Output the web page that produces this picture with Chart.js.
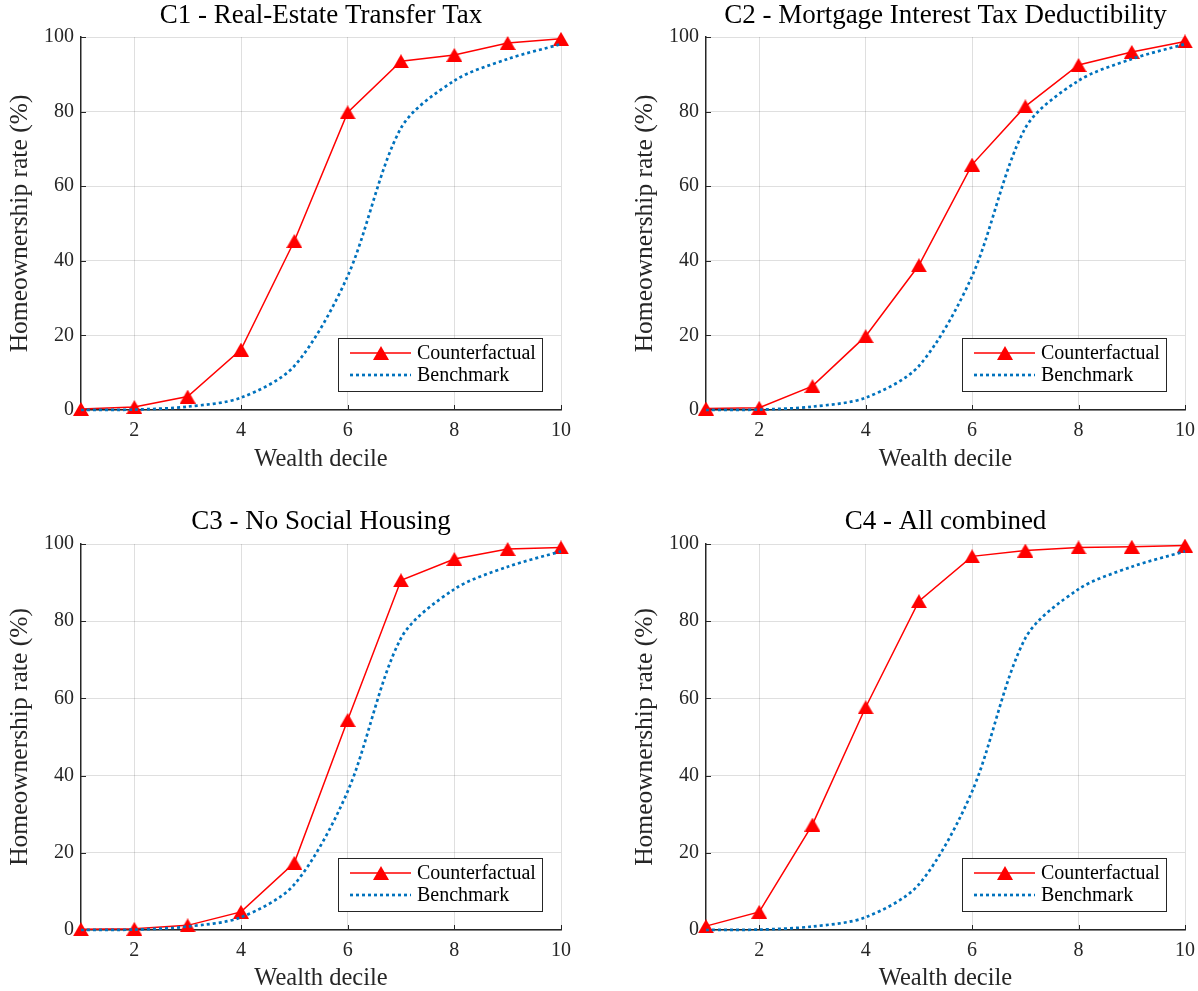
<!DOCTYPE html>
<html>
<head>
<meta charset="utf-8">
<script src="https://cdn.jsdelivr.net/npm/chart.js@4.4.1/dist/chart.umd.min.js"></script>
<style>
  html, body { margin: 0; padding: 0; background: #fff; }
  #wrap { position: relative; width: 1198px; height: 991px; overflow: hidden; background: #fff; }
  canvas { position: absolute; }
</style>
</head>
<body>
<div id="wrap">
  <canvas id="p1" width="600" height="480" style="left:0px;top:0px"></canvas>
  <canvas id="p2" width="600" height="480" style="left:625px;top:0px"></canvas>
  <canvas id="p3" width="600" height="511" style="left:0px;top:480px"></canvas>
  <canvas id="p4" width="600" height="511" style="left:625px;top:480px"></canvas>
</div>
<script>
// wealth deciles and homeownership rates (%)
const deciles = [1, 2, 3, 4, 5, 6, 7, 8, 9, 10];
const benchmark = [0, 0.1, 0.9, 3.3, 11.8, 35.9, 75.6, 88.3, 94.1, 98.1];
const c1 = [0.3, 0.8, 3.6, 16.2, 45.3, 79.8, 93.5, 95.2, 98.4, 99.5];
const c2 = [0.4, 0.6, 6.4, 19.8, 38.8, 65.8, 81.4, 92.5, 96.0, 98.8];
const c3 = [0.2, 0.3, 1.2, 4.7, 17.4, 54.4, 90.6, 96.1, 98.7, 99.1];
const c4 = [1.0, 4.7, 27.3, 57.7, 85.2, 96.8, 98.3, 99.1, 99.3, 99.6];

const titles = [
    'C1 - Real-Estate Transfer Tax',
    'C2 - Mortgage Interest Tax Deductibility',
    'C3 - No Social Housing',
    'C4 - All combined'
];
const seriesNames = ['Counterfactual', 'Benchmark'];
const xTicks = [2, 4, 6, 8, 10];
const yTicks = [0, 20, 40, 60, 80, 100];

const FONT = "'Liberation Serif', 'DejaVu Serif', serif";
const AXIS_COLOR = '#262626';
const RED = '#ff0000';
const BLUE = '#0072bd';

// matlab '^' marker: bounding box centred on the point
function triangleMarker(w, h, color) {
    const c = document.createElement('canvas');
    c.width = w;
    c.height = h;
    const g = c.getContext('2d');
    g.fillStyle = color;
    g.beginPath();
    g.moveTo(w / 2, 0);
    g.lineTo(w, h);
    g.lineTo(0, h);
    g.closePath();
    g.fill();
    return c;
}
const marker = triangleMarker(16, 14, RED);

// legend drawn inside the axes, bottom right
const legendBox = {
    id: 'legendBox',
    afterDraw(chart) {
        const { ctx, chartArea } = chart;
        const items = chart.data.datasets.slice().sort((a, b) => a.legendIndex - b.legendIndex);
        ctx.save();
        ctx.font = '20px ' + FONT;
        const textW = Math.max(...items.map(d => ctx.measureText(d.label).width));
        const w = Math.round(12 + 61 + 6 + textW + 6), h = 53;
        const x = Math.round(chartArea.right - 19 - w), y = Math.round(chartArea.bottom - 19 - h);
        ctx.fillStyle = '#fff';
        ctx.fillRect(x, y, w, h);
        ctx.strokeStyle = AXIS_COLOR;
        ctx.lineWidth = 1;
        ctx.strokeRect(x + 0.5, y + 0.5, w, h);

        items.forEach((d, i) => {
            const cy = y + 15 + i * 22;
            ctx.beginPath();
            ctx.setLineDash(d.borderDash || []);
            ctx.lineWidth = d.borderWidth;
            ctx.strokeStyle = d.borderColor;
            ctx.moveTo(x + 12, cy);
            ctx.lineTo(x + 73, cy);
            ctx.stroke();
            ctx.setLineDash([]);
            if (d.pointStyle instanceof HTMLCanvasElement) {
                const img = d.pointStyle;
                ctx.drawImage(img, x + 43 - img.width / 2, cy - img.height / 2);
            }
            ctx.fillStyle = '#000';
            ctx.textBaseline = 'middle';
            ctx.textAlign = 'left';
            ctx.fillText(d.label, x + 79, cy + 1);
        });
        ctx.restore();
    }
};

// short ticks pointing into the axes
const inwardTicks = {
    id: 'inwardTicks',
    beforeDatasetsDraw(chart) {
        const { ctx, chartArea, scales: { x, y } } = chart;
        ctx.save();
        ctx.strokeStyle = AXIS_COLOR;
        ctx.lineWidth = 1;
        ctx.beginPath();
        x.ticks.forEach(t => {
            const px = Math.round(x.getPixelForValue(t.value)) + 0.5;
            ctx.moveTo(px, chartArea.bottom);
            ctx.lineTo(px, chartArea.bottom - 5);
        });
        y.ticks.forEach(t => {
            const py = Math.round(y.getPixelForValue(t.value)) + 0.5;
            ctx.moveTo(chartArea.left, py);
            ctx.lineTo(chartArea.left + 5, py);
        });
        ctx.stroke();
        ctx.restore();
    }
};

function makeChart(id, counterfactual, title, lay) {
    const ctx = document.getElementById(id).getContext('2d');
    return new Chart(ctx, {
        type: 'line',
        data: {
            datasets: [
                {
                    label: seriesNames[0],
                    legendIndex: 0,
                    order: 2,
                    data: deciles.map((d, i) => ({ x: d, y: counterfactual[i] })),
                    borderColor: RED,
                    borderWidth: 1.5,
                    pointStyle: marker,
                    pointRadius: 8,
                    tension: 0,
                    clip: false
                },
                {
                    label: seriesNames[1],
                    legendIndex: 1,
                    order: 1,
                    data: deciles.map((d, i) => ({ x: d, y: benchmark[i] })),
                    borderColor: BLUE,
                    borderWidth: 2.7,
                    borderDash: [3, 3],
                    borderCapStyle: 'butt',
                    pointRadius: 0,
                    tension: 0.3,
                    clip: false
                }
            ]
        },
        options: {
            responsive: false,
            animation: false,
            devicePixelRatio: 1,
            layout: { padding: { left: 0, right: lay.padRight, top: 0, bottom: 0 } },
            plugins: {
                legend: { display: false },
                tooltip: { enabled: false },
                title: {
                    display: true,
                    text: title,
                    fullSize: false,
                    color: '#000',
                    font: { family: FONT, size: 27, weight: 'normal', lineHeight: 1.0 },
                    padding: { top: lay.titleTop, bottom: lay.titleBottom }
                }
            },
            scales: {
                x: {
                    type: 'linear',
                    min: 1,
                    max: 10,
                    afterBuildTicks: axis => { axis.ticks = xTicks.map(v => ({ value: v })); },
                    afterFit: axis => { axis.height = lay.xAxisH; },
                    grid: { color: 'rgba(38,38,38,0.15)', lineWidth: 1, drawTicks: false },
                    border: { display: true, color: AXIS_COLOR, width: 1.5 },
                    ticks: {
                        padding: 9,
                        color: AXIS_COLOR,
                        maxRotation: 0,
                        font: { family: FONT, size: 20 }
                    },
                    title: {
                        display: true,
                        text: 'Wealth decile',
                        color: AXIS_COLOR,
                        font: { family: FONT, size: 24.5, lineHeight: 1.0 },
                        padding: { top: 0, bottom: lay.xTitleBottom }
                    }
                },
                y: {
                    type: 'linear',
                    min: 0,
                    max: 100,
                    afterBuildTicks: axis => { axis.ticks = yTicks.map(v => ({ value: v })); },
                    afterFit: axis => { axis.width = 81; },
                    grid: { color: 'rgba(38,38,38,0.15)', lineWidth: 1, drawTicks: false },
                    border: { display: true, color: AXIS_COLOR, width: 1.5 },
                    ticks: {
                        padding: 7,
                        color: AXIS_COLOR,
                        font: { family: FONT, size: 20 }
                    },
                    title: {
                        display: true,
                        text: 'Homeownership rate (%)',
                        color: AXIS_COLOR,
                        font: { family: FONT, size: 25.5, lineHeight: 1.0 },
                        padding: { top: 8, bottom: 0 }
                    }
                }
            }
        },
        plugins: [inwardTicks, legendBox]
    });
}

const topRow = { titleTop: 2.5, titleBottom: 7.5, xAxisH: 70, xTitleBottom: 8.5 };
const bottomRow = { titleTop: 28.5, titleBottom: 8.5, xAxisH: 61, xTitleBottom: 0.5 };

makeChart('p1', c1, titles[0], Object.assign({ padRight: 39 }, topRow));
makeChart('p2', c2, titles[1], Object.assign({ padRight: 40 }, topRow));
makeChart('p3', c3, titles[2], Object.assign({ padRight: 39 }, bottomRow));
makeChart('p4', c4, titles[3], Object.assign({ padRight: 40 }, bottomRow));
</script>
</body>
</html>
